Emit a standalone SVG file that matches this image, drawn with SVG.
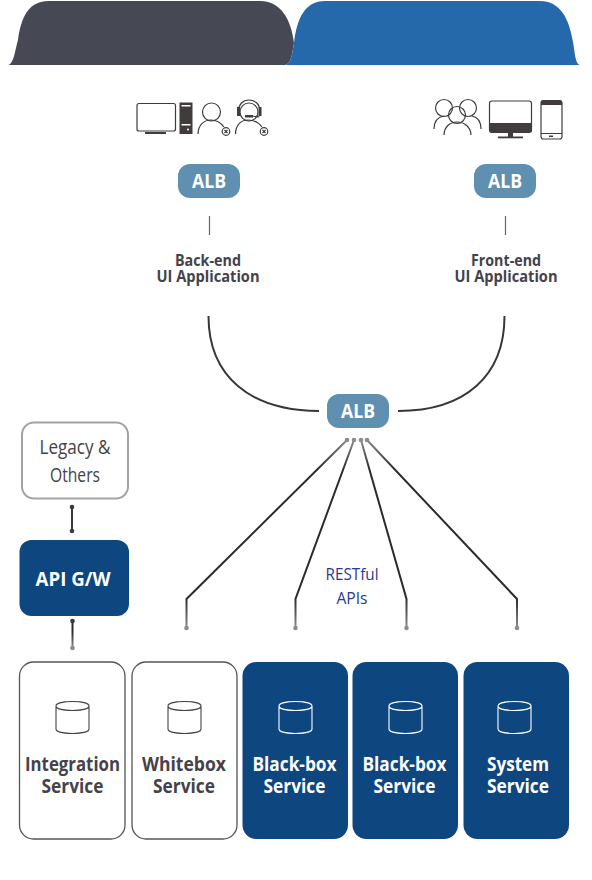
<svg xmlns="http://www.w3.org/2000/svg" width="592" height="880" viewBox="0 0 592 880">
<defs>
<linearGradient id="fade" gradientUnits="userSpaceOnUse" x1="0" y1="440" x2="0" y2="628">
<stop offset="0" stop-color="#8c8c8c"/><stop offset="0.16" stop-color="#2e2a2c"/><stop offset="0.84" stop-color="#2e2a2c"/><stop offset="1" stop-color="#8c8c8c"/>
</linearGradient>
<linearGradient id="fade2" gradientUnits="userSpaceOnUse" x1="0" y1="621" x2="0" y2="648">
<stop offset="0.4" stop-color="#2e2a2c"/><stop offset="1" stop-color="#8c8c8c"/>
</linearGradient>
</defs>
<style>
text{font-family:"Open Sans","Noto Sans",sans-serif;text-anchor:middle}
.alb{fill:#5f8fb1}
.albt{fill:#fff;font-size:20px;font-weight:700}
.t{fill:#44424a;font-size:16px;font-weight:700}
.svc{font-size:20px;font-weight:700}
.wsvc{fill:#fff;stroke:#555;stroke-width:1.3}
.nsvc{fill:#0e467f}
.dt{fill:#44424a}.lt{fill:#fff}
.db{fill:#fff;stroke:#444;stroke-width:1.1}
.dbw{fill:none;stroke:#fff;stroke-width:1.1}
.ic{fill:none;stroke:#403c3c;stroke-width:1.2}
.icf{fill:#403c3c}
.c{fill:none;stroke:#3a3638;stroke-width:2}
.d{fill:#8c8c8c}
.dd{fill:#3a3a3e}
</style>
<g id="tabs">
<path id="tab-back" d="M8 65C14 64 15 50 18 40C21 18 28 1 49 1H260C280 1 291 18 294 43C292 55 291 64 285 65Z" fill="#464853"/>
<path id="tab-front" d="M285 65C291 64 292 55 294 43C297 18 305 1 325 1H540C560 1 569 18 573 42C575 52 575 64 580 65Z" fill="#2569aa"/>
</g>
<g id="back-icons">
<rect class="ic" x="137" y="103.500" width="38.500" height="27.500" rx="2" stroke-width="1.500"/>
<rect class="icf" x="145" y="132" width="21" height="2"/>
<rect class="icf" x="179.500" y="102.500" width="13" height="31.500"/>
<rect fill="#fff" x="181.500" y="105" width="9" height="1.500"/><rect fill="#fff" x="181.500" y="124" width="9" height="1.500"/><circle fill="#fff" cx="188" cy="129.500" r="1"/>
<circle class="ic" cx="211.500" cy="112" r="9"/>
<path class="ic" d="M198 134C198 125 204 120 211 120C217 120 221 123 224 127"/>
<circle class="ic" cx="226" cy="131.500" r="3.800"/>
<path class="ic" d="M224.500 130L227.500 133M227.500 130L224.500 133" stroke-width="1"/>
<circle class="ic" cx="249" cy="112" r="9"/>
<path class="ic" d="M238.500 112C238.500 104 243 100 249 100C255 100 260 104 260 112"/>
<rect class="icf" x="237" y="107" width="3" height="9"/><rect class="icf" x="258.500" y="107" width="3" height="9"/>
<path class="ic" d="M259 116C259 118 256 116 251 116"/><rect class="icf" x="245" y="115" width="8" height="2.500"/>
<path class="ic" d="M235.500 134C235.500 125 241 120 248 120C254 120 259 123 262 127"/>
<circle class="ic" cx="264" cy="131.500" r="3.800"/>
<path class="ic" d="M262.500 130L265.500 133M265.500 130L262.500 133" stroke-width="1"/>
</g>
<g id="front-icons">
<circle class="ic" cx="444" cy="108" r="8.500"/><circle class="ic" cx="468" cy="108" r="8.500"/><circle class="ic" cx="457" cy="115" r="8.500"/>
<path class="ic" d="M434 129C434 121 438 117 444 116M481 129C481 121 477 117 472 116"/>
<path class="ic" d="M444 135C444 127 450 122 457 122C464 122 471 127 471 135"/>
<rect class="ic" x="489.500" y="101" width="42" height="31" rx="2.500" stroke-width="1.500"/>
<path class="icf" d="M489 123H532V130C532 132 531 133 529 133H492C490 133 489 132 489 130Z"/>
<rect class="icf" x="508" y="133" width="5" height="4"/><rect class="icf" x="498" y="136.500" width="25" height="1.800"/>
<rect class="ic" x="541" y="100.500" width="21" height="38.500" rx="2.500" stroke-width="1.300"/>
<path class="icf" d="M541 103C541 101 542 100 544 100H559C561 100 562 101 562 103V105H541Z"/>
<rect class="icf" x="541" y="133" width="21" height="1"/><rect class="icf" x="549" y="135.500" width="4" height="1.500"/>
</g>
<g id="alb-back"><rect class="alb" x="178" y="164" width="62" height="34" rx="12"/><text class="albt" x="209" y="188" textLength="34" lengthAdjust="spacingAndGlyphs">ALB</text></g>
<g id="alb-front"><rect class="alb" x="474" y="164" width="62" height="34" rx="12"/><text class="albt" x="505" y="188" textLength="34" lengthAdjust="spacingAndGlyphs">ALB</text></g>
<g id="alb-main"><rect class="alb" x="327" y="394" width="62" height="34" rx="12"/><text class="albt" x="358" y="418" textLength="34" lengthAdjust="spacingAndGlyphs">ALB</text></g>
<g id="back-ui"><text class="t" x="208" y="266" textLength="66" lengthAdjust="spacingAndGlyphs">Back-end</text><text class="t" x="208" y="282" textLength="103" lengthAdjust="spacingAndGlyphs">UI Application</text></g>
<g id="front-ui"><text class="t" x="506" y="266" textLength="70" lengthAdjust="spacingAndGlyphs">Front-end</text><text class="t" x="506" y="282" textLength="103" lengthAdjust="spacingAndGlyphs">UI Application</text></g>
<g id="legacy"><rect x="22" y="422.500" width="106" height="76" rx="12" fill="#fff" stroke="#a3a3a3" stroke-width="2"/><text x="75" y="454" font-size="20" fill="#44424a" textLength="71" lengthAdjust="spacingAndGlyphs">Legacy &amp;</text><text x="75" y="482" font-size="20" fill="#44424a" textLength="50" lengthAdjust="spacingAndGlyphs">Others</text></g>
<g id="api-gw"><rect x="19.500" y="540" width="109.500" height="76" rx="12" fill="#0e467f"/><text x="73" y="586" font-size="19" font-weight="700" fill="#fff" textLength="75" lengthAdjust="spacingAndGlyphs">API G/W</text></g>
<g id="svc-integration"><rect class="wsvc" x="19.500" y="662" width="105.500" height="177" rx="14"/><path class="db" d="M56 706V729C56 735 89 735 89 729V706C89 700 56 700 56 706C56 712 89 712 89 706"/><text class="svc dt" x="72.500" y="771" textLength="95" lengthAdjust="spacingAndGlyphs">Integration</text><text class="svc dt" x="72.500" y="793" textLength="62" lengthAdjust="spacingAndGlyphs">Service</text></g>
<g id="svc-whitebox"><rect class="wsvc" x="132" y="662" width="105" height="177" rx="14"/><path class="db" d="M168 706V729C168 735 201 735 201 729V706C201 700 168 700 168 706C168 712 201 712 201 706"/><text class="svc dt" x="184" y="771" textLength="84" lengthAdjust="spacingAndGlyphs">Whitebox</text><text class="svc dt" x="184" y="793" textLength="62" lengthAdjust="spacingAndGlyphs">Service</text></g>
<g id="svc-blackbox-1"><rect class="nsvc" x="242.500" y="662" width="105.500" height="177" rx="14"/><path class="dbw" d="M279 706V729C279 735 312 735 312 729V706C312 700 279 700 279 706C279 712 312 712 312 706"/><text class="svc lt" x="294.500" y="771" textLength="84" lengthAdjust="spacingAndGlyphs">Black-box</text><text class="svc lt" x="294.500" y="793" textLength="62" lengthAdjust="spacingAndGlyphs">Service</text></g>
<g id="svc-blackbox-2"><rect class="nsvc" x="352.500" y="662" width="105.500" height="177" rx="14"/><path class="dbw" d="M389 706V729C389 735 422 735 422 729V706C422 700 389 700 389 706C389 712 422 712 422 706"/><text class="svc lt" x="404.500" y="771" textLength="84" lengthAdjust="spacingAndGlyphs">Black-box</text><text class="svc lt" x="404.500" y="793" textLength="62" lengthAdjust="spacingAndGlyphs">Service</text></g>
<g id="svc-system"><rect class="nsvc" x="463.500" y="662" width="105.500" height="177" rx="14"/><path class="dbw" d="M498 706V729C498 735 531 735 531 729V706C531 700 498 700 498 706C498 712 531 712 531 706"/><text class="svc lt" x="518" y="771" textLength="62" lengthAdjust="spacingAndGlyphs">System</text><text class="svc lt" x="518" y="793" textLength="62" lengthAdjust="spacingAndGlyphs">Service</text></g>
<g id="connectors">
<path d="M209.500 216V235M505.500 216V235" fill="none" stroke="#666" stroke-width="1.200"/>
<path class="c" d="M208.500 316C208.500 376 250 411 319 411M504.500 316C504.500 376 465 411 398 411"/>
<path class="c" style="stroke:url(#fade)" d="M347 440L186.500 599V628M354 440L295.500 599V628M361 440L406.500 599V628M367 440L517 599V628"/>
<path class="c" d="M72 507V531"/>
<path class="c" style="stroke:url(#fade2)" d="M72.500 621V648"/>
<g class="d"><circle cx="347" cy="440" r="2.300"/><circle cx="354" cy="440" r="2.300"/><circle cx="361" cy="440" r="2.300"/><circle cx="367" cy="440" r="2.300"/><circle cx="186.500" cy="628" r="2.300"/><circle cx="295.500" cy="628" r="2.300"/><circle cx="406.500" cy="628" r="2.300"/><circle cx="517" cy="628" r="2.300"/><circle cx="72.500" cy="648" r="2.300"/></g>
<g class="dd"><circle cx="72" cy="507" r="2.300"/><circle cx="72" cy="531" r="2.300"/><circle cx="72.500" cy="621" r="2.300"/></g>
</g>
<g id="restful"><text x="352" y="579.500" font-size="16" fill="#2b3a8c" textLength="53" lengthAdjust="spacingAndGlyphs">RESTful</text><text x="352" y="603.500" font-size="16" fill="#2b3a8c" textLength="31" lengthAdjust="spacingAndGlyphs">APIs</text></g>
</svg>
